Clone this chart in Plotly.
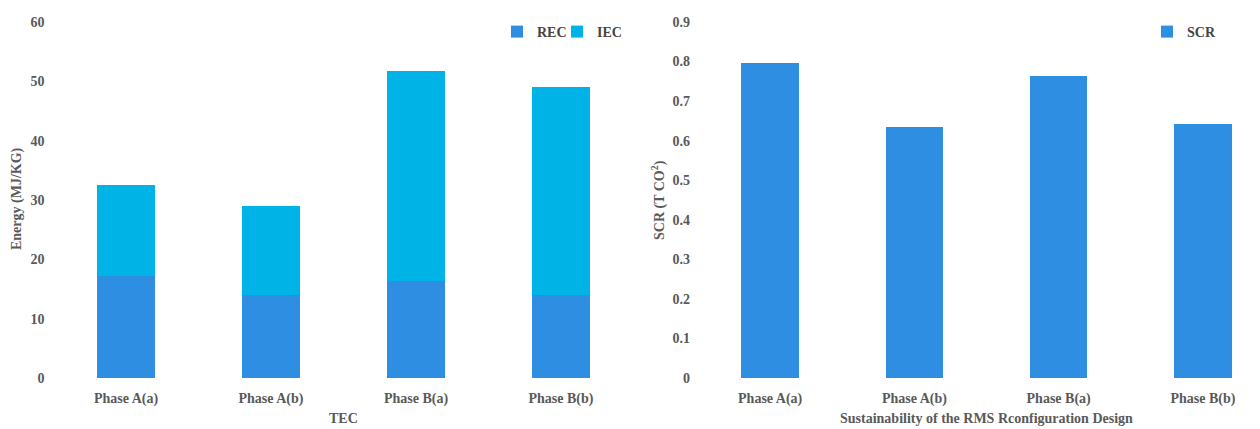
import plotly.graph_objects as go

# Data
phases = ["Phase A(a)", "Phase A(b)", "Phase B(a)", "Phase B(b)"]
rec = [17.2, 14.0, 16.3, 14.0]      # MJ/KG
iec = [15.3, 15.0, 35.5, 35.1]      # MJ/KG
scr = [0.796, 0.634, 0.763, 0.642]  # T CO2
energy_ticks = [0, 10, 20, 30, 40, 50, 60]
scr_ticks = [0, 0.1, 0.2, 0.3, 0.4, 0.5, 0.6, 0.7, 0.8, 0.9]

W, H = 1260, 429
FONT = "Liberation Serif"
TXT = "#595959"
C_REC = "#2e8fe2"
C_IEC = "#00b3e6"
C_SCR = "#2e8fe2"

fig = go.Figure()
fig.add_trace(go.Bar(x=phases, y=rec, name="REC", marker=dict(color=C_REC, line=dict(width=0)),
                     xaxis="x", yaxis="y", legend="legend"))
fig.add_trace(go.Bar(x=phases, y=iec, name="IEC", marker=dict(color=C_IEC, line=dict(width=0)),
                     xaxis="x", yaxis="y", legend="legend3"))
fig.add_trace(go.Bar(x=phases, y=scr, name="SCR", marker=dict(color=C_SCR, line=dict(width=0)),
                     xaxis="x2", yaxis="y2", legend="legend2"))

ydom = [(H - 378) / H, (H - 22) / H]
tickfont = dict(family=FONT, size=14, color=TXT, weight="bold")

common_x = dict(type="category", showgrid=False, zeroline=False, showline=False,
                ticks="", tickfont=tickfont, automargin=False, ticklabelstandoff=10)
common_y = dict(showgrid=False, zeroline=False, showline=False, ticks="",
                tickfont=tickfont, automargin=False)

legend_font = dict(family=FONT, size=14, color="#444444", weight="bold")
legend_common = dict(orientation="h", y=(H - 32) / H, xanchor="left", yanchor="middle",
                     font=legend_font, bgcolor="rgba(0,0,0,0)", itemwidth=30)

fig.update_layout(
    width=W, height=H,
    margin=dict(l=0, r=0, t=0, b=0, autoexpand=False),
    paper_bgcolor="white", plot_bgcolor="white",
    barmode="stack", bargap=0.6,
    xaxis=dict(common_x, domain=[53.5 / W, 633.5 / W], anchor="y", range=[-0.5, 3.5]),
    yaxis=dict(common_y, domain=ydom, range=[0, 60], tickvals=energy_ticks,
               anchor="x", ticklabelstandoff=8),
    xaxis2=dict(common_x, domain=[698 / W, 1.0], anchor="y2", range=[-0.5, 3.396]),
    yaxis2=dict(common_y, domain=ydom, range=[0, 0.9], tickvals=scr_ticks,
                tickformat="~g", anchor="x2", ticklabelstandoff=7),
    legend=dict(legend_common, x=497 / W),
    legend3=dict(legend_common, x=557 / W),
    legend2=dict(legend_common, x=1147 / W),
    showlegend=True,
)

title_font = dict(family=FONT, size=14, color=TXT, weight="bold")
fig.add_annotation(text="Energy (MJ/KG)", x=17 / W, y=(H - 199) / H, xref="paper", yref="paper",
                   xanchor="center", yanchor="middle",
                   textangle=-90, showarrow=False, font=title_font)
fig.add_annotation(text="SCR (T CO<sup>2</sup>)", x=658 / W, y=(H - 200) / H, xref="paper", yref="paper",
                   xanchor="center", yanchor="middle",
                   textangle=-90, showarrow=False, font=title_font)
fig.add_annotation(text="TEC", x=344 / W, y=(H - 418) / H, xref="paper", yref="paper",
                   xanchor="center", yanchor="middle", showarrow=False, font=title_font)
fig.add_annotation(text="Sustainability of the RMS Rconfiguration Design", x=986.5 / W,
                   y=(H - 418) / H, xref="paper", yref="paper",
                   xanchor="center", yanchor="middle", showarrow=False, font=title_font)

fig.write_html("out.html")
